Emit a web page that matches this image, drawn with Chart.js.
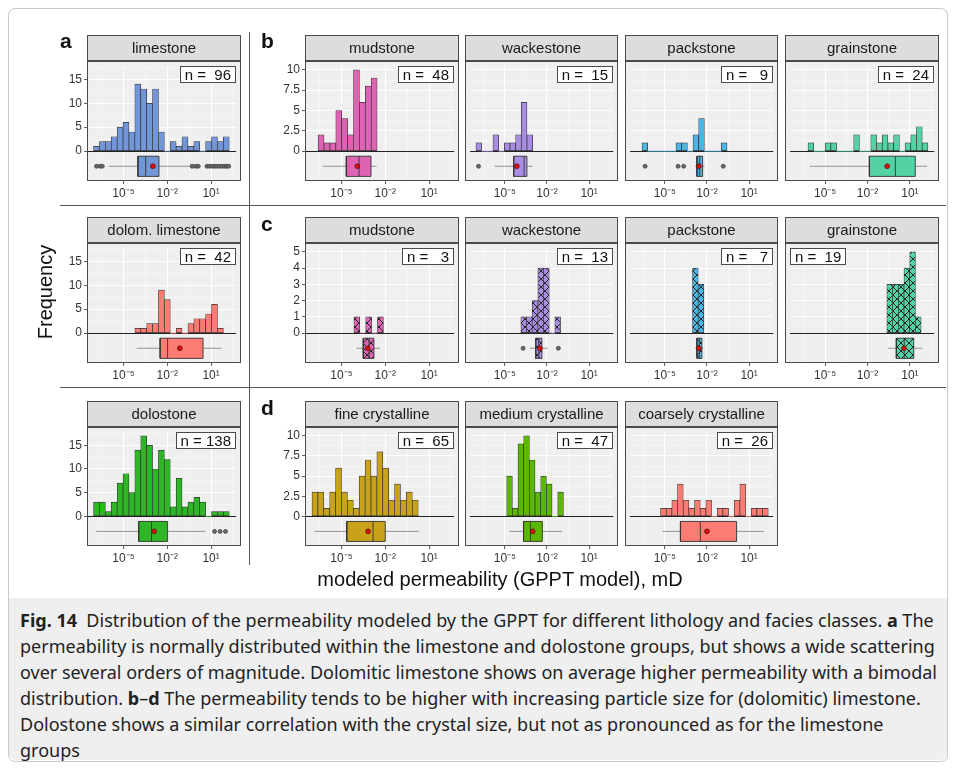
<!DOCTYPE html>
<html>
<head>
<meta charset="utf-8">
<script src="https://cdn.jsdelivr.net/npm/chart.js@4.4.0/dist/chart.umd.min.js"></script>
<style>
  body { margin: 0; background: #fff; font-family: "Liberation Sans", Arial, sans-serif; }
  #fig { position: relative; width: 955px; height: 769px; overflow: hidden; }
  #frame { position: absolute; left: 8px; top: 8px; width: 938px; height: 752px; border: 1px solid #c9c9c9; border-radius: 7px; }
  #cap { position: absolute; left: 9px; top: 598px; width: 938px; height: 162px; background: #efefef; border-radius: 0 0 7px 7px; }
  #capText { position: absolute; left: 20px; top: 607px; font-family: "Noto Sans", "Open Sans", sans-serif; font-size: 18px; line-height: 26px; color: #222; white-space: nowrap; }
  .pbg { position: absolute; background: #efefef; }
  .pbox { position: absolute; border: 1px solid #4a4a4a; box-sizing: border-box; }
  .strip { position: absolute; background: #dddddd; border: 1px solid #4a4a4a; box-sizing: border-box; text-align: center; font-size: 15px; color: #1a1a1a; }
  .nlab { position: absolute; background: #fff; border: 1px solid #4a4a4a; font-size: 15px; line-height: 15px; height: 15px; white-space: pre; padding: 0 4px; color: #111; }
  .letter { position: absolute; font-weight: bold; font-size: 21px; color: #111; }
  .sep { position: absolute; background: #555; }
  canvas { position: absolute; }
</style>
</head>
<body>
<div id="fig">
  <div id="frame"></div>
  <div id="cap"></div>
  <div id="capText"><b>Fig. 14</b>&nbsp; Distribution of the permeability modeled by the GPPT for different lithology and facies classes. <b>a</b> The<br>permeability is normally distributed within the limestone and dolostone groups, but shows a wide scattering<br>over several orders of magnitude. Dolomitic limestone shows on average higher permeability with a bimodal<br>distribution. <b>b</b>–<b>d</b> The permeability tends to be higher with increasing particle size for (dolomitic) limestone.<br>Dolostone shows a similar correlation with the crystal size, but not as pronounced as for the limestone<br>groups</div>
</div>
<script>
// x axis: log10 of permeability (mD)
const xMajor = [-5, -2, 1];
const xMajorLabels = ['10⁻⁵', '10⁻²', '10¹'];
const xMinor = [-6.5, -3.5, -0.5, 2.5];
const X_MIN = -7.5, X_MAX = 2.72;
const BIN_W = 0.404;

// y axes per group
const yTicksA = [0, 5, 10, 15];
const yTicksB = [0, 2.5, 5, 7.5, 10];
const yTicksC = [0, 1, 2, 3, 4, 5];
const yTicksD = [0, 2.5, 5, 7.5, 10];
const yMaxA = 17.85, yMaxB = 10.5, yMaxC = 5.25, yMaxD = 10.5;

// a: lithology
const limestoneStart = -7.05;
const limestoneCounts = [1, 2, 2, 3, 5, 6, 4, 14, 13, 10, 13, 4, 0, 2, 1, 3, 1, 2, 0, 2, 3, 2, 3];
const limestoneBox = [-6.01, -4.01, -3.48, -2.57, -0.43]; // whisker lo, q1, median, q3, whisker hi
const limestoneMean = -2.99;
const limestoneOut = [-6.85, -6.6, -6.45, -0.3, -0.05, 0.12, 0.72, 0.9, 1.08, 1.24, 1.38, 1.55, 1.72, 1.9, 2.05, 2.2];

const dolLimeStart = -4.22;
const dolLimeCounts = [1, 1, 2, 2, 9, 7, 0, 1, 0, 2, 3, 3, 4, 6, 1];
const dolLimeBox = [-4.1, -2.49, -1.98, 0.45, 1.71];
const dolLimeMean = -1.14;
const dolLimeOut = [];

const dolostoneStart = -7.05;
const dolostoneCounts = [3, 3, 1, 3, 7, 9, 5, 14, 17, 15, 10, 14, 12, 2, 8, 2, 3, 4, 3, 0, 1, 1, 1];
const dolostoneBox = [-6.88, -3.96, -3.08, -1.98, 0.6];
const dolostoneMean = -2.9;
const dolostoneOut = [1.24, 1.62, 1.99];

// b: limestone facies
const mudBStart = -6.6;
const mudBCounts = [2, 1, 1, 5, 4, 2, 10, 6, 8, 9];
const mudBBox = [-6.31, -4.67, -3.8, -2.98, -2.6];
const mudBMean = -3.91;
const mudBOut = [];

const wackeBStart = -7.06;
const wackeBCounts = [1, 0, 0, 2, 0, 1, 1, 2, 6, 2];
const wackeBBox = [-5.72, -4.37, -3.63, -3.43, -3.03];
const wackeBMean = -4.15;
const wackeBOut = [-6.88];

const packBStart = -6.63;
const packBCounts = [1, 0, 0, 0, 0, 0, 1, 1, 0, 2, 4, 0, 0, 0, 1];
const packBBox = [-2.85, -2.72, -2.52, -2.31, -2.18];
const packBMean = -2.58;
const packBOut = [-6.41, -4.06, -3.66, -0.84];

const grainBStart = -6.21;
const grainBCounts = [1, 0, 0, 1, 1, 0, 0, 0, 2, 0, 0, 2, 1, 2, 1, 2, 0, 1, 2, 3, 1];
const grainBBox = [-6.07, -1.87, -0.03, 1.38, 2.21];
const grainBMean = -0.61;
const grainBOut = [];

// c: dolomitic limestone facies
const mudCStart = -4.15;
const mudCCounts = [1, 0, 1, 0, 1];
const mudCBox = [-3.98, -3.51, -3.11, -2.78, -2.36];
const mudCMean = -3.2;
const mudCOut = [];

const wackeCStart = -3.86;
const wackeCCounts = [1, 1, 2, 4, 4, 0, 1];
const wackeCBox = [-3.21, -2.8, -2.58, -2.36, -1.95];
const wackeCMean = -2.51;
const wackeCOut = [-3.7, -1.19];

const packCStart = -3.03;
const packCCounts = [4, 3];
const packCBox = [-2.83, -2.72, -2.54, -2.36, -2.27];
const packCMean = -2.58;
const packCOut = [];

const grainCStart = -0.63;
const grainCCounts = [3, 3, 3, 4, 5, 1];
const grainCBox = [-0.57, 0.04, 0.6, 1.27, 1.87];
const grainCMean = 0.58;
const grainCOut = [];

// d: dolostone crystal size
const fineStart = -7.02;
const fineCounts = [3, 3, 1, 3, 6, 3, 2, 1, 5, 7, 5, 8, 6, 2, 4, 2, 3, 2];
const fineBox = [-6.84, -4.64, -2.84, -2.0, 0.31];
const fineMean = -3.18;
const fineOut = [];

const mediumStart = -4.87;
const mediumCounts = [5, 1, 9, 10, 7, 3, 5, 4, 0, 3];
const mediumBox = [-4.69, -3.67, -3.18, -2.33, -0.93];
const mediumMean = -3.02;
const mediumOut = [];

const coarseStart = -5.31;
const coarseCounts = [1, 1, 2, 4, 2, 1, 2, 1, 2, 0, 1, 1, 0, 2, 4, 0, 1, 1, 1];
const coarseBox = [-5.18, -3.89, -2.47, 0.11, 2.04];
const coarseMean = -2.0;
const coarseOut = [];

// layout of the facet grid
const colL = [87, 305, 465, 625, 785];
const colW = [154, 154, 153, 153, 154];
const rowTop = [61, 243, 427];
const rowH = [120, 120, 119];
const STRIP_H = 26;
const BOX_LO = 0.04, BOX_HI = 0.215, BOX_MID = 0.128;
const ZERO_FRAC = 0.351;

const fig = document.getElementById('fig');

function hatch(color) {
  const c = document.createElement('canvas');
  c.width = 8; c.height = 8;
  const g = c.getContext('2d');
  g.fillStyle = color; g.fillRect(0, 0, 8, 8);
  g.strokeStyle = '#262626'; g.lineWidth = 1;
  g.beginPath();
  g.moveTo(0, 0); g.lineTo(8, 8);
  g.moveTo(8, 0); g.lineTo(0, 8);
  g.stroke();
  return g.createPattern(c, 'repeat');
}

const panels = [
  { title: 'limestone', n: 96, col: 0, row: 0, yt: yTicksA, ym: yMaxA, start: limestoneStart, counts: limestoneCounts, box: limestoneBox, mean: limestoneMean, out: limestoneOut, color: '#7297d8' },
  { title: 'mudstone', n: 48, col: 1, row: 0, yt: yTicksB, ym: yMaxB, start: mudBStart, counts: mudBCounts, box: mudBBox, mean: mudBMean, out: mudBOut, color: '#de63b5' },
  { title: 'wackestone', n: 15, col: 2, row: 0, yt: yTicksB, ym: yMaxB, start: wackeBStart, counts: wackeBCounts, box: wackeBBox, mean: wackeBMean, out: wackeBOut, color: '#a98de2' },
  { title: 'packstone', n: 9, col: 3, row: 0, yt: yTicksB, ym: yMaxB, start: packBStart, counts: packBCounts, box: packBBox, mean: packBMean, out: packBOut, color: '#4cb5e3' },
  { title: 'grainstone', n: 24, col: 4, row: 0, yt: yTicksB, ym: yMaxB, start: grainBStart, counts: grainBCounts, box: grainBBox, mean: grainBMean, out: grainBOut, color: '#53d3a3' },
  { title: 'dolom. limestone', n: 42, col: 0, row: 1, yt: yTicksA, ym: yMaxA, start: dolLimeStart, counts: dolLimeCounts, box: dolLimeBox, mean: dolLimeMean, out: dolLimeOut, color: '#fc7b72' },
  { title: 'mudstone', n: 3, col: 1, row: 1, yt: yTicksC, ym: yMaxC, start: mudCStart, counts: mudCCounts, box: mudCBox, mean: mudCMean, out: mudCOut, color: '#de63b5', hatch: true },
  { title: 'wackestone', n: 13, col: 2, row: 1, yt: yTicksC, ym: yMaxC, start: wackeCStart, counts: wackeCCounts, box: wackeCBox, mean: wackeCMean, out: wackeCOut, color: '#a98de2', hatch: true },
  { title: 'packstone', n: 7, col: 3, row: 1, yt: yTicksC, ym: yMaxC, start: packCStart, counts: packCCounts, box: packCBox, mean: packCMean, out: packCOut, color: '#4cb5e3', hatch: true },
  { title: 'grainstone', n: 19, col: 4, row: 1, yt: yTicksC, ym: yMaxC, start: grainCStart, counts: grainCCounts, box: grainCBox, mean: grainCMean, out: grainCOut, color: '#53d3a3', hatch: true, nLeft: true },
  { title: 'dolostone', n: 138, col: 0, row: 2, yt: yTicksA, ym: yMaxA, start: dolostoneStart, counts: dolostoneCounts, box: dolostoneBox, mean: dolostoneMean, out: dolostoneOut, color: '#2eb626' },
  { title: 'fine crystalline', n: 65, col: 1, row: 2, yt: yTicksD, ym: yMaxD, start: fineStart, counts: fineCounts, box: fineBox, mean: fineMean, out: fineOut, color: '#c9a21c' },
  { title: 'medium crystalline', n: 47, col: 2, row: 2, yt: yTicksD, ym: yMaxD, start: mediumStart, counts: mediumCounts, box: mediumBox, mean: mediumMean, out: mediumOut, color: '#5cb700' },
  { title: 'coarsely crystalline', n: 26, col: 3, row: 2, yt: yTicksD, ym: yMaxD, start: coarseStart, counts: coarseCounts, box: coarseBox, mean: coarseMean, out: coarseOut, color: '#fc7b72' }
];

function addDiv(cls, l, t, w, h, html) {
  const d = document.createElement('div');
  d.className = cls;
  d.style.left = l + 'px'; d.style.top = t + 'px';
  if (w != null) d.style.width = w + 'px';
  if (h != null) d.style.height = h + 'px';
  if (html != null) d.innerHTML = html;
  fig.appendChild(d);
  return d;
}

function drawPanel(p) {
  const L = colL[p.col], W = colW[p.col], T = rowTop[p.row], H = rowH[p.row];
  const showY = p.col <= 1;
  const yw = showY ? 34 : 0, xh = 26;
  addDiv('pbg', L, T, W, H);

  const cv = document.createElement('canvas');
  cv.width = W + yw; cv.height = H + xh;
  cv.style.left = (L - yw) + 'px'; cv.style.top = T + 'px';
  cv.style.width = (W + yw) + 'px'; cv.style.height = (H + xh) + 'px';
  fig.appendChild(cv);

  const step = p.yt[1] - p.yt[0];
  const yMinor = [];
  for (let v = step / 2; v < p.ym; v += step) yMinor.push(v);
  const yAll = p.yt.concat(yMinor).sort((a, b) => a - b);
  const xAll = xMajor.concat(xMinor).sort((a, b) => a - b);

  const [wlo, q1, med, q3, whi] = p.box;
  const fill = p.hatch ? hatch(p.color) : p.color;

  const datasets = [
    { type: 'line', label: 'mean', order: 0, yAxisID: 'yb', data: [{ x: p.mean, y: BOX_MID }],
      showLine: false, pointRadius: 2.4, pointBackgroundColor: '#e01010', pointBorderColor: '#5a1010', pointBorderWidth: 0.8 },
    { type: 'line', label: 'outliers', order: 1, yAxisID: 'yb', data: p.out.map(v => ({ x: v, y: BOX_MID })),
      showLine: false, pointRadius: 2, pointBackgroundColor: '#6a6a6a', pointBorderColor: '#3a3a3a', pointBorderWidth: 0.7 },
    { type: 'line', label: 'median', order: 2, yAxisID: 'yb', data: [{ x: med, y: BOX_LO }, { x: med, y: BOX_HI }],
      borderColor: '#333', borderWidth: 0.9, pointRadius: 0 },
    { type: 'line', label: 'box', order: 3, yAxisID: 'yb',
      data: [{ x: q1, y: BOX_LO }, { x: q3, y: BOX_LO }, { x: q3, y: BOX_HI }, { x: q1, y: BOX_HI }, { x: q1, y: BOX_LO }],
      fill: 'shape', backgroundColor: fill, borderColor: '#333', borderWidth: 0.9, pointRadius: 0 },
    { type: 'line', label: 'whiskers', order: 4, yAxisID: 'yb',
      data: [{ x: wlo, y: BOX_MID }, { x: q1, y: BOX_MID }, { x: med, y: null }, { x: q3, y: BOX_MID }, { x: whi, y: BOX_MID }],
      borderColor: '#7a7a7a', borderWidth: 0.8, pointRadius: 0, spanGaps: false },
    { type: 'bar', label: 'counts', order: 5, yAxisID: 'y',
      data: p.counts.map((c, i) => ({ x: p.start + (i + 0.5) * BIN_W, y: c })),
      backgroundColor: fill, borderColor: '#333',
      borderWidth: c => (c.raw && c.raw.y > 0 ? 0.7 : 0), borderSkipped: false,
      barPercentage: 1, categoryPercentage: 1 }
  ];

  new Chart(cv, {
    type: 'bar',
    data: { datasets },
    options: {
      responsive: false, animation: false, events: [],
      layout: { padding: 0 },
      plugins: { legend: { display: false }, tooltip: { enabled: false } },
      scales: {
        x: {
          type: 'linear', min: X_MIN, max: X_MAX, offset: false,
          border: { display: false },
          grid: {
            offset: false,
            color: c => (xMajor.includes(c.tick.value) ? '#ffffff' : '#fbfbfb'),
            lineWidth: c => (xMajor.includes(c.tick.value) ? 1.1 : 0.5),
            tickColor: c => (xMajor.includes(c.tick.value) ? '#333' : 'rgba(0,0,0,0)'),
            tickLength: 3, tickWidth: 0.8
          },
          ticks: {
            autoSkip: false, maxRotation: 0, minRotation: 0, padding: 2, color: '#333',
            font: { family: 'Liberation Sans', size: 12 },
            callback: v => { const i = xMajor.indexOf(v); return i >= 0 ? xMajorLabels[i] : ''; }
          },
          afterBuildTicks: s => { s.ticks = xAll.map(v => ({ value: v })); },
          afterFit: s => { s.height = xh; s.paddingLeft = 0; s.paddingRight = 0; }
        },
        y: {
          type: 'linear', min: -p.ym * ZERO_FRAC, max: p.ym,
          border: { display: false },
          grid: {
            color: c => (c.tick.value === 0 ? '#222' : (p.yt.includes(c.tick.value) ? '#ffffff' : '#fbfbfb')),
            lineWidth: c => (c.tick.value === 0 ? 1 : (p.yt.includes(c.tick.value) ? 1.1 : 0.5)),
            tickColor: c => (showY && p.yt.includes(c.tick.value) ? '#333' : 'rgba(0,0,0,0)'),
            tickLength: 3, tickWidth: 0.8
          },
          ticks: {
            display: showY, autoSkip: false, padding: 2, color: '#333',
            font: { family: 'Liberation Sans', size: 12 },
            callback: v => (p.yt.includes(v) ? String(v) : '')
          },
          afterBuildTicks: s => { s.ticks = yAll.map(v => ({ value: v })); },
          afterFit: s => { s.width = yw; s.paddingTop = 0; s.paddingBottom = 0; }
        },
        yb: { type: 'linear', min: 0, max: 1, display: false }
      }
    }
  });

  addDiv('pbox', L, T, W, H);
  addDiv('strip', L, T - STRIP_H, W, STRIP_H, p.title).style.lineHeight = (STRIP_H - 2) + 'px';
  const nl = addDiv('nlab', 0, T + 5, null, null, 'n = ' + String(p.n).padStart(3, ' '));
  if (p.nLeft) nl.style.left = (L + 5) + 'px';
  else { nl.style.left = ''; nl.style.right = (955 - (L + W) + 5) + 'px'; }
}

panels.forEach(drawPanel);

// panel letters, separators and axis titles
addDiv('letter', 60, 29, null, null, 'a');
addDiv('letter', 261, 29, null, null, 'b');
addDiv('letter', 261, 212, null, null, 'c');
addDiv('letter', 261, 396, null, null, 'd');
addDiv('sep', 249, 32, 1, 533);
addDiv('sep', 60, 205, 886, 1);
addDiv('sep', 60, 387, 886, 1);

const yt = addDiv('', 45, 292, null, null, 'Frequency');
yt.style.position = 'absolute'; yt.style.fontSize = '20px'; yt.style.color = '#111';
yt.style.transform = 'translate(-50%, -50%) rotate(-90deg)'; yt.style.whiteSpace = 'nowrap';

const xt = addDiv('', 500, 568, null, null, 'modeled permeability (GPPT model), mD');
xt.style.position = 'absolute'; xt.style.fontSize = '20px'; xt.style.color = '#111';
xt.style.transform = 'translateX(-50%)'; xt.style.whiteSpace = 'nowrap';
</script>
</body>
</html>
